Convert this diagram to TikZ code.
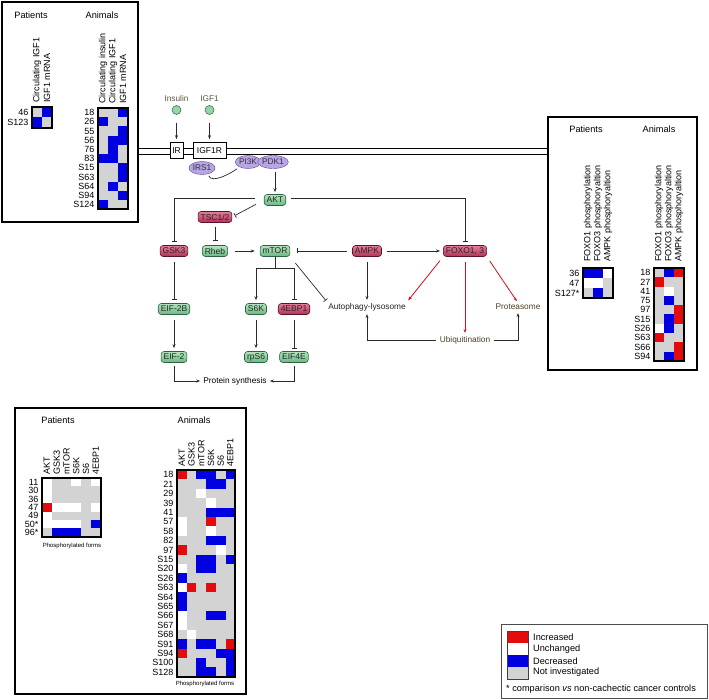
\documentclass[tikz,border=0pt]{standalone}
\usepackage{fontspec}
\setmainfont{Liberation Sans}
\usetikzlibrary{arrows.meta,shapes.geometric,calc}
\definecolor{cr}{HTML}{E30B0B}
\definecolor{cw}{HTML}{FFFFFF}
\definecolor{cb}{HTML}{0000E1}
\definecolor{cg}{HTML}{D3D3D3}
\definecolor{lineC}{HTML}{2B2B2B}
\definecolor{redline}{HTML}{D0101E}
\definecolor{gfillT}{HTML}{B4E5BF}
\definecolor{gfillB}{HTML}{68B983}
\definecolor{gdraw}{HTML}{2C6440}
\definecolor{rfillT}{HTML}{E57D9A}
\definecolor{rfillB}{HTML}{B52F57}
\definecolor{rdraw}{HTML}{5C1228}
\definecolor{pfill}{HTML}{B9A4E4}
\definecolor{pdraw}{HTML}{5A4790}
\definecolor{olivetxt}{HTML}{4B4026}
\definecolor{ligtxt}{HTML}{5E5646}

\newcount\hgk
\def\hgcells#1{\hgk=0 \hgcellsA#1\relax}
\def\hgcellsA#1{\ifx#1\relax\else\hgfill{#1}\advance\hgk by 1 \expandafter\hgcellsA\fi}
\def\hgfill#1{\fill[c#1] ({\hgx+\the\hgk*\hgw},{\hgy+(\hgr-1)*\hgh}) rectangle ++({\hgw+0.4},{\hgh+0.4});}
\newcommand\heatgrid[6]{%
  \def\hgx{#2}\def\hgy{#3}\def\hgw{#4}\def\hgh{#5}%
  \foreach \lab/\cols [count=\hgr] in {#6}{%
    \expandafter\hgcells\expandafter{\cols}%
    \node[rowlab] (#1\hgr) at ({#2-3.5},{#3+(\hgr-0.5)*#5}) {\lab};
  }%
}

\begin{document}
\begin{tikzpicture}[x=1pt,y=-1pt,
  every node/.style={font=\fontsize{9}{10}\selectfont},
  rowlab/.style={anchor=east,inner sep=0pt,font=\fontsize{9}{9}\selectfont},
  collab/.style={rotate=90,anchor=west,inner sep=0pt,font=\fontsize{9}{9}\selectfont},
  hdr/.style={font=\fontsize{9.2}{10}\selectfont,inner sep=0pt},
  bigbox/.style={line width=2pt},
  gborder/.style={line width=1.6pt},
  gbox/.style={draw=gdraw,top color=gfillT,bottom color=gfillB,rounded corners=3pt,line width=0.6pt,minimum height=11pt,inner xsep=2.5pt,inner ysep=0pt,font=\fontsize{8.5}{8.5}\selectfont,text=black!85},
  rbox/.style={gbox,draw=rdraw,top color=rfillT,bottom color=rfillB},
  pell/.style={ellipse,draw=pdraw,fill=pfill,minimum width=25pt,minimum height=13pt,inner sep=0pt,font=\fontsize{8.3}{8.3}\selectfont,text=black!80},
  rectbox/.style={draw,fill=white,minimum height=16pt,inner sep=0pt,line width=0.6pt,font=\fontsize{8.5}{8.5}\selectfont},
  lbl/.style={font=\fontsize{8.3}{8.3}\selectfont,inner sep=1pt},
  arr/.style={draw=lineC,line width=0.7pt,-{Stealth[length=4pt,width=3pt]}},
  inh/.style={draw=lineC,line width=0.7pt,-{Bar[width=5pt,line width=0.7pt]}},
  rarr/.style={draw=redline,line width=0.8pt,-{Stealth[length=4pt,width=3pt]}},
  phos/.style={font=\fontsize{6}{6}\selectfont,inner sep=0pt},
  lig/.style={circle,draw=gdraw,fill=gfillT!60!gfillB,minimum size=9pt,inner sep=0pt,line width=0.5pt},
  leg/.style={anchor=west,inner sep=0pt,font=\fontsize{9.2}{10}\selectfont}
]
\useasboundingbox (0,0) rectangle (709,700);
\fill[white] (0,0) rectangle (709,700);

% ---------- top-left panel ----------
\draw[bigbox] (2,2) rectangle (138,222);
\node[hdr] (tlP) at (31,15) {Patients};
\node[hdr] (tlA) at (102,15) {Animals};
\node[collab] (tlpc1) at (37,103) {Circulating IGF1};
\node[collab] (tlpc2) at (47,103) {IGF1 mRNA};
\heatgrid{tlp}{32}{107}{10}{10.5}{46/gb,S123/bg}
\draw[gborder] (32,107) rectangle ++(20,21);
\node[collab] (tlac1) at (103,104) {Circulating insulin};
\node[collab] (tlac2) at (113,104) {Circulating IGF1};
\node[collab] (tlac3) at (123,104) {IGF1 mRNA};
\heatgrid{tla}{98}{108}{10}{9.2}{18/ggb,26/bgg,55/ggb,56/gbb,76/gbg,83/bbg,S15/ggb,S63/ggb,S64/gbg,S94/ggb,S124/bgg}
\draw[gborder] (98,108) rectangle ++(30,101.2);

% ---------- right panel ----------
\draw[bigbox] (548,117) rectangle (697,370);
\node[hdr] (rP) at (586,129) {Patients};
\node[hdr] (rA) at (659,129) {Animals};
\node[collab] (rpc1) at (588,262) {FOXO1 phosphorylation};
\node[collab] (rpc2) at (598,262) {FOXO3 phosphoryaltion};
\node[collab] (rpc3) at (608,262) {AMPK phosphoryaltion};
\heatgrid{rp}{583}{268}{10}{10}{36/bbw,47/wwg,S127*/gbg}
\draw[gborder] (583,268) rectangle ++(30,30);
\node[collab] (rac1) at (659,262) {FOXO1 phosphorylation};
\node[collab] (rac2) at (669,262) {FOXO3 phosphoryaltion};
\node[collab] (rac3) at (679,262) {AMPK phosphoryaltion};
\heatgrid{ra}{654}{268}{10}{9.3}{18/gbr,27/rgg,41/gwg,75/gbg,97/ggr,S15/gbr,S26/wbg,S63/rgg,S66/ggr,S94/gbr}
\draw[gborder] (654,268) rectangle ++(30,93);

% ---------- bottom-left panel ----------
\draw[bigbox] (15,408) rectangle (246,694);
\node[hdr] (blP) at (58,420) {Patients};
\node[hdr] (blA) at (194,420) {Animals};
\foreach \t [count=\i] in {AKT,GSK3,mTOR,S6K,S6,4EBP1}
  \node[collab] (blpc\i) at ({42+9.8*(\i-0.5)},475) {\t};
\heatgrid{blp}{42}{478}{9.8}{8.4}{11/wggwgw,30/wggggg,36/wggggg,47/rwwwgw,49/wggggg,50*/wwwwgb,96*/gbbbgg}
\draw[gborder] (42,478) rectangle ++(58.8,58.8);
\node[phos] (blpf) at (72,546) {Phosphorylated forms};
\foreach \t [count=\i] in {AKT,GSK3,mTOR,S6K,S6,4EBP1}
  \node[collab] (blac\i) at ({177+9.7*(\i-0.5)},467) {\t};
\heatgrid{bla}{177}{470}{9.7}{9.4}{18/rgbbgb,21/gggbbg,29/ggwggg,39/gggwgg,41/gggbbb,57/wggrgg,58/wggwgg,82/gggbbg,97/rgggwg,S15/ggbbgb,S20/wgbbgg,S26/bggggg,S63/wrgrgg,S64/bggggg,S65/bggggg,S66/wggbbg,S67/wggggg,S68/gwgggg,S91/bgbbgr,S94/rgggbb,S100/ggbggb,S128/ggbbgb}
\draw[gborder] (177,470) rectangle ++(58.2,206.8);
\node[phos] (blaf) at (205,684) {Phosphorylated forms};

% ---------- legend ----------
\draw[line width=0.9pt,draw=black!70] (501,624) rectangle (707,698);
\fill[cr] (507,631) rectangle (528,642.5);
\fill[cw] (507,642.5) rectangle (528,655);
\fill[cb] (507,655) rectangle (528,667);
\fill[cg] (507,667) rectangle (528,679);
\draw[black!75,line width=0.8pt] (507,631) rectangle (528,679);
\node[leg] (lgI) at (533,637) {Increased};
\node[leg] (lgU) at (533,649) {Unchanged};
\node[leg] (lgD) at (533,661) {Decreased};
\node[leg] (lgN) at (533,672) {Not investigated};
\node[leg] (lgF) at (506,689) {* comparison \textit{vs} non-cachectic cancer controls};

% ---------- pathway ----------
\draw[line width=0.7pt] (138,148) -- (548,148);
\draw[line width=0.7pt] (138,154) -- (548,154);
\node[lbl,text=ligtxt] (tIns) at (176.5,99) {Insulin};
\node[lbl,text=ligtxt] (tIGF) at (209.5,99) {IGF1};
\node[lig] (cIns) at (176.5,110) {};
\node[lig] (cIGF) at (209.5,110) {};
\node[rectbox,minimum width=13pt] (IR) at (176.5,150.5) {IR};
\node[rectbox,minimum width=33pt] (IGF1R) at (209.5,150.5) {IGF1R};
\draw[arr,shorten <=8pt,shorten >=3pt] (cIns) -- (IR);
\draw[arr,shorten <=8pt,shorten >=3pt] (cIGF) -- (IGF1R);

\node[pell] (IRS1) at (202,168) {IRS1};
\node[pell] (PI3K) at (248,162) {PI3K};
\node[pell] (PDK1) at (273,162) {PDK1};
\draw[lineC,line width=0.7pt,shorten <=2pt,shorten >=3pt] (IRS1.-45) .. controls +(4,10) and +(-8,6) .. (PI3K.-150);

\node[gbox] (AKT) at (275,200) {AKT};
\draw[arr,shorten <=3pt,shorten >=2pt] (AKT |- PDK1.south) -- (AKT.north);
\node[rbox] (TSC) at (215,217) {TSC1/2};
\draw[inh,shorten <=9pt,shorten >=3pt] (AKT.west) -- (TSC.east);

\node[rbox] (GSK3) at (174,251) {GSK3};
\node[gbox] (Rheb) at (215,251) {Rheb};
\node[gbox] (mTOR) at (275,251) {mTOR};
\node[rbox] (AMPK) at (367,251) {AMPK};
\node[rbox] (FOXO) at (465,251) {FOXO1, 3};
\draw[inh,shorten >=3pt] ([xshift=-9pt,yshift=1.5pt]AKT.west) -| (GSK3.north);
\draw[inh,shorten >=3pt] ([xshift=5pt,yshift=1.5pt]AKT.east) -| (FOXO.north);
\draw[inh,shorten <=4pt,shorten >=4pt] (TSC) -- (Rheb);
\draw[arr,shorten <=7pt,shorten >=5pt] (Rheb) -- (mTOR);
\draw[inh,shorten <=5pt,shorten >=7pt] (AMPK) -- (mTOR);
\draw[arr,shorten <=5pt,shorten >=3pt] (AMPK) -- (FOXO);

\coordinate (fork) at (275,268);
\node[gbox] (EIF2B) at (174,309) {EIF-2B};
\node[gbox] (S6K) at (256,309) {S6K};
\node[rbox] (EBP) at (294,309) {4EBP1};
\draw[lineC,line width=0.7pt] (mTOR.south) -- (fork);
\draw[arr,shorten >=3pt] (fork) -| (S6K.north);
\draw[inh,shorten >=3pt] (fork) -| (EBP.north);
\draw[inh,shorten <=5pt,shorten >=3pt] (GSK3) -- (EIF2B);

\node[gbox] (EIF2) at (174,357) {EIF-2};
\node[gbox] (rpS6) at (256,357) {rpS6};
\node[gbox] (EIF4E) at (294,357) {EIF4E};
\draw[arr,shorten <=5pt,shorten >=3pt] (EIF2B) -- (EIF2);
\draw[arr,shorten <=5pt,shorten >=3pt] (S6K) -- (rpS6);
\draw[inh,shorten <=5pt,shorten >=3pt] (EBP) -- (EIF4E);
\node[lbl] (PS) at (235,381) {Protein synthesis};
\draw[arr,shorten <=3pt,shorten >=2pt] (EIF2.south) |- (PS.west);
\draw[arr,shorten <=3pt,shorten >=2pt] (EIF4E.south) |- (PS.east);

\node[lbl,text=black!85] (AUT) at (367,307) {Autophagy-lysosome};
\node[lbl,text=olivetxt] (UBQ) at (465,340) {Ubiquitination};
\node[lbl,text=olivetxt] (PRO) at (518,307) {Proteasome};
\draw[inh,shorten <=8pt,shorten >=2pt] (mTOR.south east) -- (AUT.north west);
\draw[arr,shorten <=5pt,shorten >=2pt] (AMPK) -- (AUT);
\draw[rarr,shorten <=5pt,shorten >=2pt] (FOXO.south west) -- (AUT.north east);
\draw[rarr,shorten <=5pt,shorten >=2pt] (FOXO.south) -- (UBQ.north);
\draw[rarr,shorten <=5pt,shorten >=2pt] (FOXO.south east) -- (PRO.north);
\draw[arr,shorten <=3pt,shorten >=2pt] (UBQ.west) -| (AUT.south);
\draw[arr,shorten <=3pt,shorten >=2pt] (UBQ.east) -| (PRO.south);
\end{tikzpicture}
\end{document}
